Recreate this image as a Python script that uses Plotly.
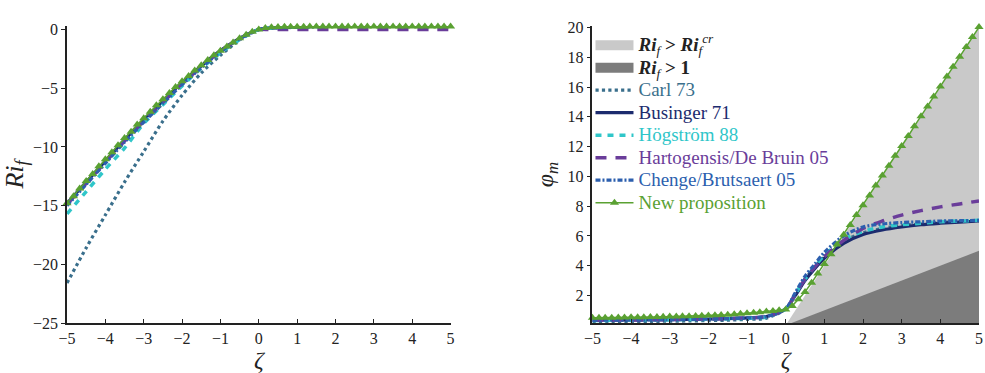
import plotly.graph_objects as go

# ---------------- data ----------------
LINE_ZETA = [-5, -4.5, -4, -3.5, -3, -2.5, -2, -1.5, -1, -0.5, 0,
             0.25, 0.5, 0.75, 1, 1.5, 2, 2.5, 3, 3.5, 4, 4.5, 5]

# left panel: flux Richardson number Ri_f
RI_CARL = [-21.6, -18.6, -15.8, -13.0, -10.4, -7.8, -5.6, -3.7, -2.2, -0.9, 0,
           0.11, 0.15, 0.19, 0.21, 0.26, 0.32, 0.38, 0.45, 0.51, 0.58, 0.64, 0.71]
RI_BUSINGER = [-14.8, -13.0, -11.2, -9.4, -7.7, -6.1, -4.5, -3.1, -1.8, -0.75, 0,
               0.12, 0.16, 0.19, 0.22, 0.27, 0.33, 0.39, 0.45, 0.51, 0.58, 0.65, 0.71]
RI_HOGSTROM = [-15.7, -13.8, -11.9, -10.1, -8.0, -6.4, -4.8, -3.3, -2.0, -0.85, 0,
               0.11, 0.15, 0.18, 0.21, 0.26, 0.32, 0.38, 0.44, 0.51, 0.58, 0.64, 0.71]
RI_HARTOGENSIS = [-14.9, -13.1, -11.3, -9.5, -7.8, -6.2, -4.6, -3.2, -1.85, -0.78, 0,
                  0, 0, 0, 0, 0, 0, 0, 0, 0, 0, 0, 0]
RI_CHENGE = [-15.0, -13.2, -11.4, -9.6, -7.9, -6.3, -4.7, -3.25, -1.9, -0.8, 0,
             0.11, 0.14, 0.16, 0.19, 0.24, 0.30, 0.37, 0.43, 0.50, 0.57, 0.64, 0.71]

# right panel: phi_m
PHI_CARL = [0.23, 0.24, 0.25, 0.26, 0.27, 0.29, 0.31, 0.34, 0.39, 0.48, 1.1,
            2.1, 3.1, 3.9, 4.6, 5.65, 6.2, 6.5, 6.7, 6.8, 6.9, 6.97, 7.02]
PHI_BUSINGER = [0.34, 0.35, 0.36, 0.37, 0.38, 0.40, 0.42, 0.45, 0.50, 0.59, 1.1,
                2.0, 3.0, 3.8, 4.5, 5.5, 6.1, 6.4, 6.6, 6.75, 6.85, 6.93, 7.0]
PHI_HOGSTROM = [0.32, 0.33, 0.34, 0.35, 0.36, 0.38, 0.40, 0.43, 0.47, 0.55, 1.1,
                2.1, 3.1, 3.95, 4.7, 5.75, 6.3, 6.6, 6.75, 6.85, 6.95, 7.0, 7.05]
PHI_HARTOGENSIS = [0.33, 0.34, 0.35, 0.36, 0.38, 0.40, 0.42, 0.45, 0.49, 0.58, 1.1,
                   2.1, 3.1, 3.9, 4.6, 5.7, 6.5, 7.0, 7.4, 7.7, 7.95, 8.15, 8.35]
PHI_CHENGE = [0.33, 0.34, 0.35, 0.36, 0.38, 0.39, 0.42, 0.45, 0.49, 0.58, 1.1,
              2.2, 3.3, 4.1, 4.9, 6.0, 6.6, 6.8, 6.9, 6.95, 7.0, 7.02, 7.05]

# New proposition (dense triangle markers)
NEW_ZETA = [-5.00, -4.83, -4.67, -4.50, -4.33, -4.17, -4.00, -3.83, -3.67, -3.50,
            -3.33, -3.17, -3.00, -2.83, -2.67, -2.50, -2.33, -2.17, -2.00, -1.83,
            -1.67, -1.50, -1.33, -1.17, -1.00, -0.83, -0.67, -0.50, -0.33, -0.17,
            0.00, 0.17, 0.33, 0.50, 0.67, 0.83, 1.00, 1.17, 1.33, 1.50,
            1.67, 1.83, 2.00, 2.17, 2.33, 2.50, 2.67, 2.83, 3.00, 3.17,
            3.33, 3.50, 3.67, 3.83, 4.00, 4.17, 4.33, 4.50, 4.67, 4.83, 5.00]
NEW_PHI = [0.50, 0.50, 0.51, 0.51, 0.52, 0.52, 0.53, 0.54, 0.54, 0.55,
           0.56, 0.57, 0.58, 0.59, 0.60, 0.61, 0.62, 0.63, 0.65, 0.67,
           0.69, 0.71, 0.74, 0.77, 0.80, 0.84, 0.88, 0.92, 0.96, 1.00,
           1.05, 1.30, 1.75, 2.24, 2.85, 3.48, 4.12, 4.77, 5.43, 6.08,
           6.74, 7.40, 8.06, 8.72, 9.39, 10.05, 10.71, 11.38, 12.04, 12.71,
           13.37, 14.04, 14.70, 15.37, 16.03, 16.70, 17.36, 18.03, 18.69, 19.36, 20.03]
NEW_RI = [-14.8, -14.2, -13.55, -12.9, -12.3, -11.65, -11.05, -10.45, -9.85, -9.25,
          -8.7, -8.1, -7.55, -7.0, -6.45, -5.95, -5.4, -4.9, -4.4, -3.95,
          -3.5, -3.05, -2.6, -2.2, -1.8, -1.45, -1.1, -0.75, -0.45, -0.2,
          0.0, 0.13, 0.19, 0.22, 0.23, 0.24, 0.24, 0.24, 0.25, 0.25,
          0.25, 0.25, 0.25, 0.25, 0.25, 0.25, 0.25, 0.25, 0.25, 0.25,
          0.25, 0.25, 0.25, 0.25, 0.25, 0.25, 0.25, 0.25, 0.25, 0.25, 0.25]

# shaded regions (phi_m below zeta/Ri_f boundary)
SHADE_ZETA = [0, 5]
SHADE_CRIT = [0, 20]   # Ri_f > Ri_f^cr (Ri_cr = 0.25)
SHADE_ONE = [0, 5]     # Ri_f > 1

X_TICKS = [-5, -4, -3, -2, -1, 0, 1, 2, 3, 4, 5]
LEFT_Y_TICKS = [0, -5, -10, -15, -20, -25]
RIGHT_Y_TICKS = [2, 4, 6, 8, 10, 12, 14, 16, 18, 20]

# ---------------- styles ----------------
FONT = "Liberation Serif, Times New Roman, DejaVu Serif, serif"
C_CARL = "#3a6f8c"
C_BUS = "#1c2b6e"
C_HOG = "#2fc6c9"
C_HART = "#6a3d9a"
C_CHENG = "#2c5fae"
C_NEW = "#5aa132"
C_LIGHT = "#c9c9c9"
C_DARK = "#7c7c7c"
LEG_FS = "font-size:19px"

series = [
    ("Carl 73", RI_CARL, PHI_CARL, C_CARL, dict(width=3.2, dash="dot")),
    ("Businger 71", RI_BUSINGER, PHI_BUSINGER, C_BUS, dict(width=3.2, dash="solid")),
    ("Högström 88", RI_HOGSTROM, PHI_HOGSTROM, C_HOG, dict(width=3.5, dash="6px,6px")),
    ("Hartogensis/De Bruin 05", RI_HARTOGENSIS, PHI_HARTOGENSIS, C_HART, dict(width=3.5, dash="11px,9px")),
    ("Chenge/Brutsaert 05", RI_CHENGE, PHI_CHENGE, C_CHENG, dict(width=3.2, dash="5px,2px,2px,2px")),
]

fig = go.Figure()

# shaded areas (right panel)
fig.add_trace(go.Scatter(x=SHADE_ZETA, y=SHADE_CRIT, mode="lines", fill="tozeroy",
                         fillcolor=C_LIGHT, line=dict(width=0, color=C_LIGHT),
                         showlegend=False, xaxis="x2", yaxis="y2", hoverinfo="skip"))
fig.add_trace(go.Scatter(x=SHADE_ZETA, y=SHADE_ONE, mode="lines", fill="tozeroy",
                         fillcolor=C_DARK, line=dict(width=0, color=C_DARK),
                         showlegend=False, xaxis="x2", yaxis="y2", hoverinfo="skip"))

# legend entries for shaded areas
fig.add_trace(go.Scatter(x=[None], y=[None], mode="lines",
                         line=dict(width=13, color=C_LIGHT),
                         name=f"<span style='{LEG_FS}'><b><i>Ri</i></b><sub><i>f</i></sub><b> > <i>Ri</i></b><sub><i>f</i></sub><sup><i>cr</i></sup></span>",
                         xaxis="x2", yaxis="y2"))
fig.add_trace(go.Scatter(x=[None], y=[None], mode="lines",
                         line=dict(width=13, color=C_DARK),
                         name=f"<span style='{LEG_FS}'><b><i>Ri</i></b><sub><i>f</i></sub><b> > 1</b></span>",
                         xaxis="x2", yaxis="y2"))

for name, ri, phi, col, ln in series:
    fig.add_trace(go.Scatter(x=LINE_ZETA, y=ri, mode="lines", line=dict(color=col, shape="spline", smoothing=0.8, **ln),
                             showlegend=False, xaxis="x", yaxis="y"))
    fig.add_trace(go.Scatter(x=LINE_ZETA, y=phi, mode="lines", line=dict(color=col, shape="spline", smoothing=0.8, **ln),
                             name=f"<span style='color:{col};{LEG_FS}'>{name}</span>", xaxis="x2", yaxis="y2"))

fig.add_trace(go.Scatter(x=NEW_ZETA, y=NEW_RI, mode="lines+markers",
                         line=dict(color=C_NEW, width=1.5),
                         marker=dict(symbol="triangle-up", size=8, color=C_NEW),
                         showlegend=False, xaxis="x", yaxis="y", cliponaxis=False))
fig.add_trace(go.Scatter(x=NEW_ZETA, y=NEW_PHI, mode="lines+markers",
                         line=dict(color=C_NEW, width=1.5),
                         marker=dict(symbol="triangle-up", size=8, color=C_NEW),
                         name=f"<span style='color:{C_NEW};{LEG_FS}'>New proposition</span>",
                         xaxis="x2", yaxis="y2", cliponaxis=False))

axis_common = dict(showgrid=False, zeroline=False, showline=True, linecolor="#222", linewidth=1.5,
                   tickfont=dict(family=FONT, size=16, color="#222"), tickcolor="#222", ticklen=4,
                   automargin=False)

fig.update_layout(
    width=985, height=373,
    margin=dict(l=67, r=6, t=26, b=50),
    paper_bgcolor="white", plot_bgcolor="white",
    font=dict(family=FONT, color="#222"),
    xaxis=dict(domain=[0, 0.4206], range=[-5, 5], tickvals=X_TICKS, ticks="inside",
               title=dict(text="<i>ζ</i>", font=dict(family=FONT, size=24), standoff=0), anchor="y",
               **axis_common),
    yaxis=dict(domain=[0, 1], range=[-25, 0.3], tickvals=LEFT_Y_TICKS, ticks="outside",
               title=dict(text="<i>Ri</i><sub><i>f</i></sub>", font=dict(family=FONT, size=26), standoff=5),
               anchor="x", **axis_common),
    xaxis2=dict(domain=[0.5761, 1], range=[-5, 5], tickvals=X_TICKS, ticks="inside",
                title=dict(text="<i>ζ</i>", font=dict(family=FONT, size=24), standoff=0), anchor="y2",
                **axis_common),
    yaxis2=dict(domain=[0, 1], range=[0.15, 20.1], tickvals=RIGHT_Y_TICKS, ticks="outside",
                title=dict(text="<i>φ</i><sub><i>m</i></sub>", font=dict(family=FONT, size=24), standoff=7),
                anchor="x2", **axis_common),
    legend=dict(x=0.574, y=0.99, xanchor="left", yanchor="top", bgcolor="rgba(0,0,0,0)",
                font=dict(family=FONT, size=15, color="#222"), itemwidth=38,
                tracegroupgap=0),
    showlegend=True,
)

fig.write_html("out.html", config={"displayModeBar": False},
               post_script="document.body.style.margin='0';document.body.style.overflow='hidden';")
